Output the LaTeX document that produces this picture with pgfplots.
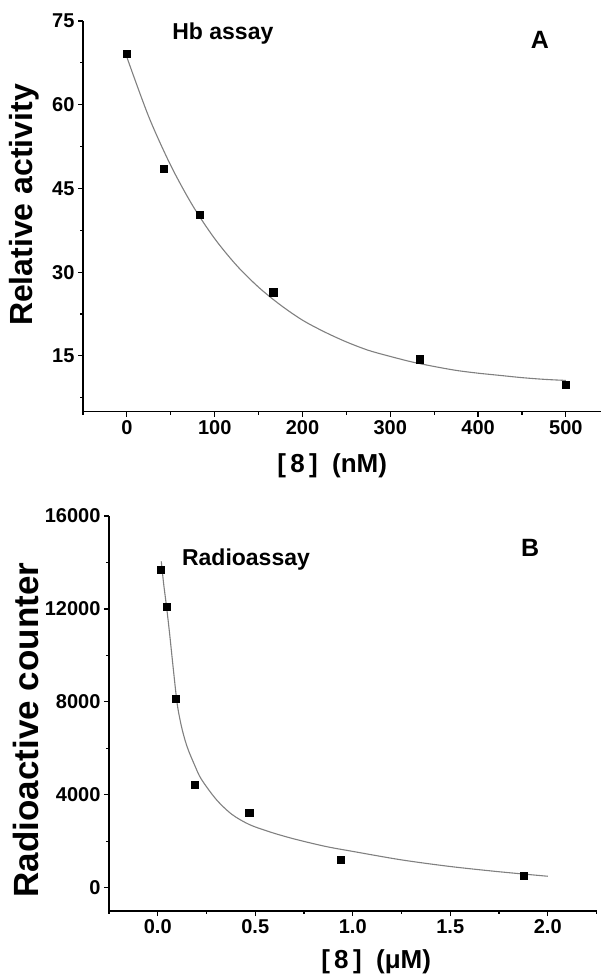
\documentclass[border=0pt]{standalone}
\usepackage{pgfplots}
\pgfplotsset{compat=1.18}
\usepackage{fontspec}
\setmainfont{Liberation Sans}

\definecolor{fitgray}{RGB}{128,128,128}
\newcommand{\tl}[1]{{\bfseries\fontsize{20}{20}\selectfont #1}}

\pgfplotsset{
  panel/.style={
    scale only axis,
    axis lines*=left,
    axis line style={line width=1.3pt, black},
    tick align=outside,
    major tick length=5pt,
    minor tick length=3pt,
    every tick/.style={line width=1.2pt, black},
    scaled ticks=false,
    clip=false,
  },
}

\begin{document}
\begin{tikzpicture}[x=1pt,y=1pt]
\path[use as bounding box] (0,0) rectangle (606,979);

% ---- panel A: Hb assay
\begin{axis}[panel,
    at={(83pt,567.3pt)}, anchor=south west,
    width=518pt, height=390.7pt,
    xmin=-50, xmax=540, ymin=5, ymax=75,
    xtick={0,100,200,300,400,500},
    xticklabels={\tl{0},\tl{100},\tl{200},\tl{300},\tl{400},\tl{500}},
    minor xtick={-50,50,150,250,350,450},
    ytick={15,30,45,60,75},
    yticklabels={\tl{15},\tl{30},\tl{45},\tl{60},\tl{75}},
    minor ytick={7.5,22.5,37.5,52.5,67.5},
    xlabel={[\,8\,]\;\;(nM)},
    ylabel={Relative activity},
    xlabel style={at={(axis description cs:0.481,-0.139)}, anchor=center,
      font=\bfseries\fontsize{26}{26}\selectfont},
    ylabel style={at={(axis description cs:-0.114,0.529)}, anchor=center, rotate=0,
      font=\bfseries\fontsize{32}{32}\selectfont},
  ]
  % fitted decay curve
  \addplot[fitgray, line width=1.1pt, smooth] coordinates {
    (0,68.5) (25,57.8) (50,49.1) (75,41.9) (100,36.0) (125,31.2)
    (150,27.3) (175,24.1) (200,21.4) (225,19.3) (250,17.5) (275,16.0)
    (300,14.9) (325,13.9) (350,13.1) (375,12.4) (400,11.9) (425,11.5)
    (450,11.1) (475,10.8) (500,10.6)
  };
  \addplot[only marks, mark=square*, mark size=3.6pt, black] coordinates {
    (0,69.1) (41.7,48.5) (83.3,40.3) (166.7,26.4) (333.3,14.4) (500,9.9)
  };
  \node[font=\bfseries\fontsize{23}{23}\selectfont] at (axis description cs:0.270,0.969) {Hb assay};
  \node[font=\bfseries\fontsize{25}{25}\selectfont] at (axis description cs:0.882,0.951) {A};
\end{axis}

% ---- panel B: Radioassay
\begin{axis}[panel,
    at={(109pt,68pt)}, anchor=south west,
    width=487.5pt, height=395pt,
    xmin=-0.25, xmax=2.25, ymin=-1000, ymax=16000,
    xtick={0,0.5,1,1.5,2},
    xticklabels={\tl{0.0},\tl{0.5},\tl{1.0},\tl{1.5},\tl{2.0}},
    minor xtick={-0.25,0.25,0.75,1.25,1.75,2.25},
    ytick={0,4000,8000,12000,16000},
    yticklabels={\tl{0},\tl{4000},\tl{8000},\tl{12000},\tl{16000}},
    minor ytick={2000,6000,10000,14000},
    xlabel={[\,8\,]\;\;(μM)},
    ylabel={Radioactive counter},
    xlabel style={at={(axis description cs:0.548,-0.129)}, anchor=center,
      font=\bfseries\fontsize{26}{26}\selectfont},
    ylabel style={at={(axis description cs:-0.170,0.458)}, anchor=center, rotate=0,
      font=\bfseries\fontsize{35}{35}\selectfont},
  ]
  \addplot[fitgray, line width=1.1pt, smooth] coordinates {
    (0.018,14050) (0.03,13100) (0.045,12100) (0.06,11000) (0.08,9400)
    (0.10,7900) (0.12,7000) (0.14,6350) (0.158,5900) (0.188,5300)
    (0.223,4680) (0.30,3800) (0.38,3160) (0.47,2720) (0.58,2390)
    (0.70,2100) (0.86,1780) (1.0,1565) (1.25,1200) (1.5,915)
    (1.75,690) (2.0,495)
  };
  \addplot[only marks, mark=square*, mark size=3.6pt, black] coordinates {
    (0.016,13700) (0.045,12100) (0.094,8150) (0.188,4450)
    (0.469,3220) (0.938,1200) (1.875,510)
  };
  \node[font=\bfseries\fontsize{23}{23}\selectfont] at (axis description cs:0.281,0.889) {Radioassay};
  \node[font=\bfseries\fontsize{25}{25}\selectfont] at (axis description cs:0.864,0.919) {B};
\end{axis}
\end{tikzpicture}
\end{document}
